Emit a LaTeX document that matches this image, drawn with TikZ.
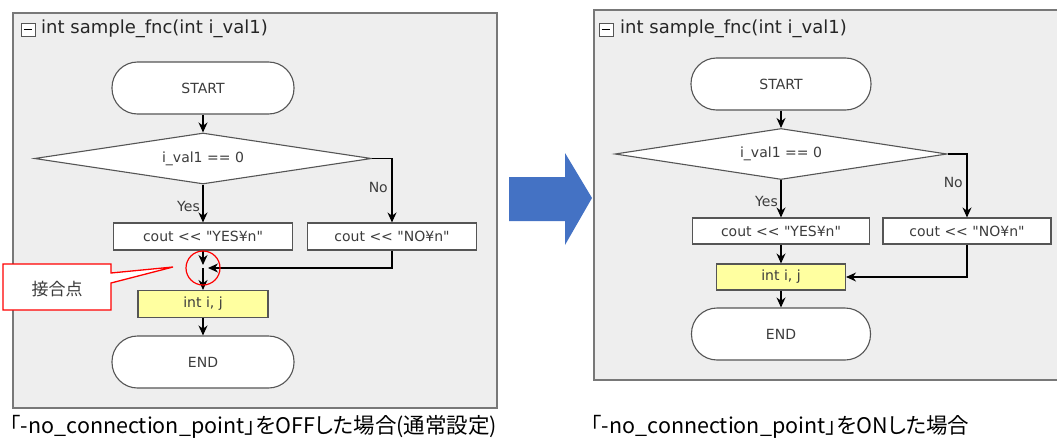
\documentclass[tikz,border=0pt]{standalone}
\usepackage{fontspec}
\setmainfont{DejaVu Sans}[Ligatures=TeXOff]
\newfontfamily\jpfont{Noto Sans CJK JP}[RawFeature=+palt]
\usepackage{xcolor}
\usetikzlibrary{shapes.geometric,arrows.meta}

\definecolor{panelgray}{RGB}{238,238,238}
\definecolor{framegray}{RGB}{120,120,120}
\definecolor{boxline}{RGB}{85,85,85}
\definecolor{declyellow}{RGB}{255,255,160}
\definecolor{arrowblue}{RGB}{68,114,196}
\definecolor{textgray}{RGB}{60,60,60}

\tikzset{
  panel/.style={draw=framegray,fill=panelgray,line width=1.2pt},
  foldbox/.style={draw=boxline,fill=white,line width=0.9pt,minimum width=14pt,minimum height=13pt,inner sep=0pt},
  fntitle/.style={font=\fontsize{18}{21}\selectfont,text=black!85,anchor=west,inner sep=0pt},
  term/.style={draw=boxline,fill=white,line width=1.1pt,rounded corners=25.5pt,minimum width=182pt,minimum height=52pt,
    font=\fontsize{14}{16}\selectfont,text=textgray},
  cond/.style={diamond,draw=boxline,fill=white,line width=1.1pt,aspect=6,inner sep=0pt,minimum height=51pt,
    font=\fontsize{14}{16}\selectfont,text=textgray},
  proc/.style={rectangle,draw=boxline,fill=white,line width=1.1pt,minimum height=27pt,inner sep=0pt,
    font=\fontsize{14}{16}\selectfont,text=textgray},
  decl/.style={proc,fill=declyellow},
  branch/.style={font=\fontsize{14}{16}\selectfont,text=textgray,anchor=east,inner sep=0pt},
  flow/.style={-{Stealth[length=10pt,width=9pt]},line width=1.1pt},
  caption/.style={font=\jpfont\fontsize{21.5}{25}\selectfont,anchor=west,inner sep=0pt}
}

\begin{document}
\begin{tikzpicture}[x=1pt,y=-1pt]
\useasboundingbox (0,0) rectangle (1057,439);

% Left: connection point OFF
\draw[panel] (13,13) rectangle (497,408);
\node[foldbox] (lfold) at (28,29.5) {};
\draw[line width=1.2pt] ([xshift=3pt]lfold.west) -- ([xshift=-3pt]lfold.east);
\node[fntitle] (ltitle) at (41,29) {int sample\_fnc(int i\_val1)};

\node[term] (lstart) at (203,88) {START};
\node[cond,minimum width=337pt] (lcond) at (203,158.5) {i\_val1 == 0};
\node[proc,minimum width=179pt] (lyes) at (203,236.5) {cout << "YES¥n"};
\node[proc,minimum width=169pt] (lno) at (392,236.5) {cout << "NO¥n"};
\coordinate (ljoin) at (203,268);
\node[decl,minimum width=130pt] (ldecl) at (203,304) {int i, j};
\node[term] (lend) at (203,362) {END};

\node[branch] (lyeslbl) at (200,206) {Yes};
\node[branch] (lnolbl) at (388,187) {No};

\draw[flow] (lstart) -- (lcond);
\draw[flow] (lcond.south) -- (lyes.north);
\draw[flow] (lcond.east) -| (lno.north);
\draw[flow,shorten >=3pt] (lyes.south) -- (ljoin);
\draw[flow,shorten >=5pt] (lno.south) |- (ljoin);
\draw[flow] (ljoin) -- (ldecl.north);
\draw[flow] (ldecl) -- (lend);

% Connection point note
\node[circle,draw=red,line width=1.2pt,minimum size=34pt,inner sep=0pt] (lmark) at (ljoin) {};
\draw[draw=red,fill=white,line width=1.3pt] (3,264) -- (111,264) -- (111,273) -- (173,267)
  -- (111,283) -- (111,310) -- (3,310) -- cycle;
\node[font=\jpfont\fontsize{17}{20}\selectfont,text=textgray] (lnote) at (57,289) {接合点};

\node[caption] (lcap) at (10,427) {「-no\_connection\_point」をOFFした場合(通常設定)};

% Arrow
\fill[arrowblue] (509,177) -- (565,177) -- (565,153) -- (592,198) -- (565,245) -- (565,221) -- (509,221) -- cycle;

% Right: connection point ON
\draw[panel] (594,10) rectangle (1062,380);
\node[foldbox] (rfold) at (606,29.5) {};
\draw[line width=1.2pt] ([xshift=3pt]rfold.west) -- ([xshift=-3pt]rfold.east);
\node[fntitle] (rtitle) at (620,29) {int sample\_fnc(int i\_val1)};

\node[term,minimum width=180pt] (rstart) at (781,84) {START};
\node[cond,minimum width=332pt] (rcond) at (781,154) {i\_val1 == 0};
\node[proc,minimum width=177pt,minimum height=26pt] (ryes) at (781,231) {cout << "YES¥n"};
\node[proc,minimum width=168pt,minimum height=26pt] (rno) at (967,231) {cout << "NO¥n"};
\node[decl,minimum width=129pt,minimum height=26pt] (rdecl) at (781,277) {int i, j};
\node[term,minimum width=179pt] (rend) at (781,334) {END};

\node[branch] (ryeslbl) at (778,201) {Yes};
\node[branch] (rnolbl) at (963,182) {No};

\draw[flow] (rstart) -- (rcond);
\draw[flow] (rcond.south) -- (ryes.north);
\draw[flow] (rcond.east) -| (rno.north);
\draw[flow] (ryes) -- (rdecl);
\draw[flow] (rno.south) |- (rdecl.east);
\draw[flow] (rdecl) -- (rend);

\node[caption] (rcap) at (591,427) {「-no\_connection\_point」をONした場合};
\end{tikzpicture}
\end{document}
